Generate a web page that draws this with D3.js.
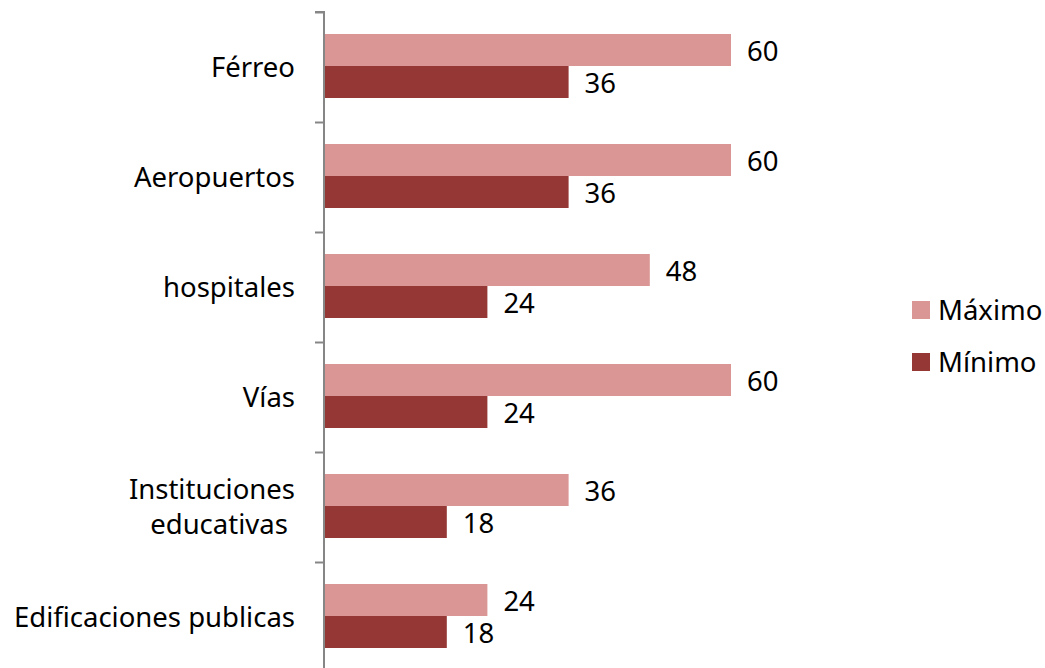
<!DOCTYPE html>
<html>
<head>
<meta charset="utf-8">
<script src="https://cdn.jsdelivr.net/npm/d3@7"></script>
<style>
  body { margin: 0; background: #fff; }
  text { font-family: "Noto Sans", sans-serif; fill: #000; }
</style>
</head>
<body>
<script>
// chart values
var categories = ["Férreo", "Aeropuertos", "hospitales", "Vías", "Instituciones\neducativas ", "Edificaciones publicas"];
var maximo = [60, 60, 48, 60, 36, 24];
var minimo = [36, 36, 24, 24, 18, 18];
var seriesNames = ["Máximo", "Mínimo"];
var colors = ["#d99694", "#953735"];

var width = 1045, height = 668;
var marginLeft = 324, marginTop = 12;
var fontSize = "27.5px";

var svg = d3.select("body").append("svg")
    .attr("width", width)
    .attr("height", height);

// ranges
var x = d3.scaleLinear().domain([0, 60]).range([marginLeft, marginLeft + 406]);
var y = d3.scaleBand().domain(d3.range(categories.length)).range([marginTop, marginTop + 660]);
var inner = d3.scaleBand().domain([0, 1]).range([22, 86]).padding(0);

var data = categories.map((c, i) => { return { name: c, values: [maximo[i], minimo[i]] }; });

var groups = svg.selectAll(".cat")
    .data(data)
    .enter().append("g")
    .attr("class", "cat")
    .attr("transform", (d, i) => "translate(0," + y(i) + ")");

groups.selectAll("rect")
    .data((d) => d.values)
    .enter().append("rect")
    .attr("x", x(0) + 1)
    .attr("y", (d, j) => inner(j))
    .attr("width", (d) => x(d) - x(0))
    .attr("height", inner.bandwidth())
    .attr("fill", (d, j) => colors[j]);

// value labels
groups.selectAll(".val")
    .data((d) => d.values)
    .enter().append("text")
    .attr("class", "val")
    .attr("x", (d) => x(d) + 17)
    .attr("y", (d, j) => inner(j) + inner.bandwidth() / 2 + 1)
    .attr("dy", "0.35em")
    .style("font-size", fontSize)
    .text((d) => d);

// category labels
groups.each(function (d) {
    var lines = d.name.split("\n");
    var t = d3.select(this).append("text")
        .attr("text-anchor", "end")
        .style("font-size", fontSize)
        .style("white-space", "pre");
    lines.forEach((l, k) => {
        t.append("tspan")
            .attr("x", 295)
            .attr("y", y.bandwidth() / 2 + (k - (lines.length - 1) / 2) * 35)
            .attr("dy", "0.35em")
            .text(l);
    });
});

// axis
var axis = d3.axisLeft(d3.scaleLinear().domain([0, 6]).range([marginTop, marginTop + 660]))
    .ticks(6)
    .tickSize(9)
    .tickFormat("");
svg.append("g")
    .attr("transform", "translate(" + marginLeft + ",0)")
    .call(axis)
    .call((g) => g.select(".domain").attr("stroke", "#868686").attr("stroke-width", 2).attr("d", "M-9," + marginTop + "H0V" + (marginTop + 660)))
    .call((g) => g.selectAll(".tick line").attr("stroke", "#868686").attr("stroke-width", 2));

// legend
var legend = svg.selectAll(".legend")
    .data(seriesNames)
    .enter().append("g")
    .attr("class", "legend")
    .attr("transform", (d, i) => "translate(912," + (301 + i * 52) + ")");

legend.append("rect")
    .attr("width", 18)
    .attr("height", 18)
    .attr("fill", (d, i) => colors[i]);

legend.append("text")
    .attr("x", 26)
    .attr("y", 9)
    .attr("dy", "0.35em")
    .style("font-size", fontSize)
    .text((d) => d);
</script>
</body>
</html>
